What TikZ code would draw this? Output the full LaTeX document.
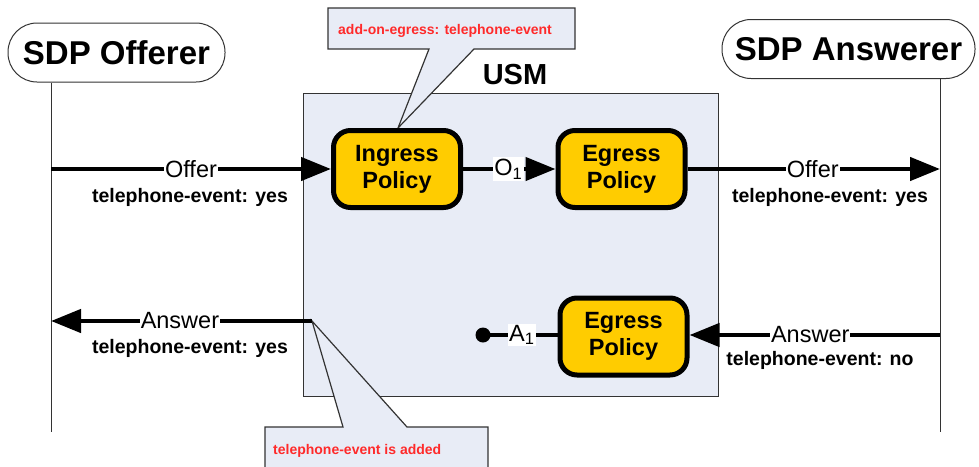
\documentclass[tikz,border=0pt]{standalone}
\usepackage{fontspec}
\setmainfont{Liberation Sans}
\usetikzlibrary{arrows.meta}
\definecolor{usmfill}{HTML}{E8ECF6}
\definecolor{gold}{HTML}{FFCC00}
\definecolor{callred}{HTML}{FF2A2A}
\tikzset{
 party/.style={draw=black!80, line width=1pt, rounded corners=29pt, minimum width=217pt, minimum height=59pt, font=\fontsize{33}{36}\selectfont\bfseries, inner sep=0pt, fill=white},
 policy/.style={draw=black, line width=5pt, fill=gold, rounded corners=17pt, minimum width=127pt, minimum height=77pt, align=center, font=\fontsize{23.5}{27}\selectfont\bfseries, inner sep=0pt},
 msg/.style={line width=4.5pt, -{Triangle[length=30pt,width=23pt]}},
 plainmsg/.style={line width=4pt},
 lbl/.style={fill=white, inner sep=1pt, font=\fontsize{23.5}{26}\selectfont},
 sub/.style={font=\fontsize{19.5}{22}\selectfont\bfseries, inner sep=0pt},
 callout/.style={draw=black!80, line width=1.2pt, fill=usmfill, line join=miter},
 note/.style={text=callred, font=\fontsize{14}{16}\selectfont\bfseries, anchor=west, inner sep=0pt},
 lifeline/.style={draw=black!80, line width=1pt},
 usmbox/.style={draw=black!80, line width=1pt, fill=usmfill, minimum width=415pt, minimum height=303pt, inner sep=0pt},
}
\begin{document}
\begin{tikzpicture}[x=1pt,y=-1pt]
\useasboundingbox (0,0) rectangle (979,466);
\clip (0,0) rectangle (979,466);
% parties and lifelines
\coordinate (offBot) at (51,432);
\coordinate (ansBot) at (940,432);
\node[party] (offerer) at (116.5,52.5) {SDP Offerer};
\node[party, minimum width=253pt] (answerer) at (848.5,49) {SDP Answerer};
\draw[lifeline] (offerer.south -| offBot) -- (offBot);
\draw[lifeline] (answerer.south -| ansBot) -- (ansBot);
% USM
\node[usmbox] (usm) at (510.5,244.5) {};
\node[font=\fontsize{29}{32}\selectfont\bfseries] (usmlbl) at (515,75) {USM};
% callouts
\coordinate (tip1) at (398,128);
\draw[callout] (328,8) -- (575,8) -- (575,49) -- (474,49) -- (tip1) -- (429,49) -- (328,49) -- cycle;
\node[note] (note1) at (338,31) {add-on-egress: telephone-event};
\coordinate (tip2) at (312,321);
\draw[callout] (265,427) -- (343,427) -- (tip2) -- (407,427) -- (488,427) -- (488,480) -- (265,480) -- cycle;
\node[note] (note2) at (273,451) {telephone-event is added};
% policies
\node[policy] (ingress) at (397,169) {Ingress\\Policy};
\node[policy] (egress1) at (621.5,169) {Egress\\Policy};
\node[policy] (egress2) at (623.5,336.5) {Egress\\Policy};
% offer path
\coordinate (offL) at (51,169);
\coordinate (offR) at (940,169);
\draw[msg] (offL) -- node[lbl, pos=0.5] (offerlbl1) {Offer} (ingress.west);
\node[sub] (te1) at (190,197) {telephone-event: yes};
\draw[msg] (ingress.east) -- node[lbl, pos=0.49, inner sep=1.5pt] (o1) {O\textsubscript{1}} (egress1.west);
\draw[msg] (egress1.east) -- node[lbl, pos=0.496] (offerlbl2) {Offer} (offR);
\node[sub] (te2) at (830,197) {telephone-event: yes};
% answer path
\coordinate (ansL) at (51,321);
\coordinate (ansR) at (940,335);
\draw[msg] (ansR) -- node[lbl, pos=0.518] (anslbl2) {Answer} (egress2.east |- ansR);
\node[sub] (te4) at (820,360) {telephone-event: no};
\coordinate (dot) at (483,335);
\fill (dot) circle (7.5pt);
\draw[plainmsg] (dot) -- node[lbl, pos=0.52, inner sep=1.5pt] (a1) {A\textsubscript{1}} (egress2.west |- dot);
\draw[msg] (tip2) -- node[lbl, pos=0.506] (anslbl1) {Answer} (ansL);
\node[sub] (te3) at (190,348) {telephone-event: yes};
\end{tikzpicture}
\end{document}
